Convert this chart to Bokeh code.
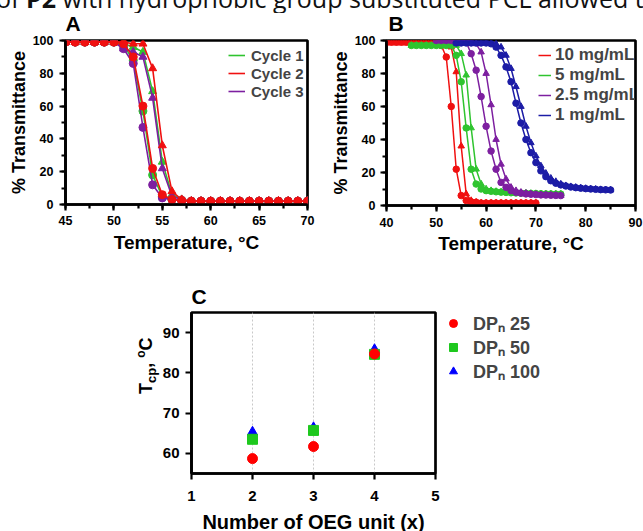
from bokeh.plotting import figure
from bokeh.layouts import column, row
from bokeh.models import Range1d, SingleIntervalTicker, Legend, LegendItem, Div
from bokeh.embed import file_html
from bokeh.resources import INLINE

FONT = "Liberation Sans"

# ---------------- Panel A data (temperature, % transmittance) ----------------
temp_a = [45, 46, 47, 48, 49, 50, 51, 52, 53, 54, 55, 56, 57,
          58, 59, 60, 61, 62, 63, 64, 65, 66, 67, 68, 69, 70]
a_c1_heat = [99, 99, 99, 99, 99, 99, 97, 88, 57, 18, 5, 3, 2.5, 2, 2, 2, 2, 2, 2, 2, 2, 2, 2, 2, 2, 2]
a_c1_cool = [99, 99, 99, 99, 99, 99, 98, 96, 93, 69, 26, 6, 3, 2, 2, 2, 2, 2, 2, 2, 2, 2, 2, 2, 2, 2]
a_c2_heat = [99, 99, 99, 99, 99, 99, 98, 90, 60, 22, 6, 3, 2.5, 2, 2, 2, 2, 2, 2, 2, 2, 2, 2, 2, 2, 2]
a_c2_cool = [99, 99, 99, 99, 99, 99, 99, 98, 98, 83, 36, 8, 3, 2, 2, 2, 2, 2, 2, 2, 2, 2, 2, 2, 2, 2]
a_c3_heat = [99, 99, 99, 99, 99, 99, 95, 86, 47, 12, 4, 3, 2.5, 2, 2, 2, 2, 2, 2, 2, 2, 2, 2, 2, 2, 2]
a_c3_cool = [99, 99, 99, 99, 99, 99, 95, 93, 90, 65, 22, 5, 3, 2, 2, 2, 2, 2, 2, 2, 2, 2, 2, 2, 2, 2]
a_labels = ["Cycle 1", "Cycle 2", "Cycle 3"]

# ---------------- Panel B data ----------------
temp_b_red = [40, 41, 42, 43, 44, 45, 46, 47, 48, 49, 50, 51, 52, 53, 54, 55,
              56, 57, 58, 59, 60, 61, 62, 63, 64, 65, 66, 67, 68, 69, 70]
b_red_heat = [99, 99, 99, 99, 99, 99, 99, 99, 99, 99, 99, 97, 90, 60, 22, 6,
              3, 2.2, 2, 1.5, 1.5, 1.5, 1.5, 1.5, 1.5, 1.5, 1.5, 1.5, 1.5, 1.5, 1.5]
b_red_cool = [98.5, 98.5, 98.5, 98.5, 98.5, 98.5, 98.5, 98.5, 98.5, 98.5, 98.5, 98.5, 98.5, 96, 81, 36,
              7, 3, 2, 1.5, 1.5, 1.5, 1.5, 1.5, 1.5, 1.5, 1.5, 1.5, 1.5, 1.5, 1.5]

temp_b_green = [45, 46, 47, 48, 49, 50, 51, 52, 53, 54, 55, 56, 57, 58, 59, 60,
                61, 62, 63, 64, 65, 66, 67, 68, 69, 70, 71, 72, 73, 74, 75]
b_green_heat = [97, 97, 97, 97, 97, 97, 97, 97, 97, 91, 75, 47, 22, 13, 10, 9,
                8.6, 8.3, 8.1, 7.9, 7.7, 7.6, 7.5, 7.4, 7.3, 7.2, 7.1, 7.0, 7.0, 6.9, 6.9]
b_green_cool = [97, 97, 97, 97, 97, 97, 97, 97, 97, 97, 92, 79, 47, 22, 13, 10,
                9, 8.5, 8.2, 8.0, 7.8, 7.6, 7.5, 7.4, 7.3, 7.2, 7.1, 7.0, 7.0, 6.9, 6.9]

temp_b_purple = [50, 51, 52, 53, 54, 55, 56, 57, 58, 59, 60, 61, 62,
                 63, 64, 65, 66, 67, 68, 69, 70, 71, 72, 73, 74, 75]
b_purple_heat = [100, 100, 100, 100, 100, 100, 99, 92, 82, 66, 48, 33, 22,
                 14, 11, 9, 8, 7.5, 7, 6.8, 6.6, 6.4, 6.3, 6.2, 6.1, 6]
b_purple_cool = [100, 100, 100, 100, 100, 100, 100, 100, 98, 93, 80, 61, 40,
                 25, 16, 11, 9, 8, 7.4, 7, 6.7, 6.5, 6.3, 6.2, 6.1, 6]

temp_b_blue = [54, 55, 56, 57, 58, 59, 60, 61, 62, 63, 64, 65, 66, 67, 68, 69,
               70, 71, 72, 73, 74, 75, 76, 77, 78, 79, 80, 81, 82, 83, 84, 85]
b_blue_heat = [98.5, 98.5, 98.5, 98.5, 98.5, 98.5, 98.5, 98, 96, 91, 84, 75, 62, 50, 40, 32,
               26, 21, 17.5, 15, 13.5, 12.5, 11.8, 11.2, 10.8, 10.5, 10.2, 10, 9.8, 9.6, 9.5, 9.4]
b_blue_cool = [98.5, 98.5, 98.5, 98.5, 98.5, 98.5, 98.5, 98.5, 98, 96, 91, 83, 72, 60, 48, 38,
               30, 24, 19.5, 16.5, 14.5, 13, 12, 11.4, 11, 10.6, 10.3, 10, 9.8, 9.6, 9.5, 9.4]
b_labels = ["10 mg/mL", "5 mg/mL", "2.5 mg/mL", "1 mg/mL"]

# ---------------- Panel C data ----------------
oeg_units = [2, 3, 4]
tcp_dp25 = [58.7, 61.7, 84.7]
tcp_dp50 = [63.5, 65.7, 84.6]
tcp_dp100 = [65.3, 66.4, 85.8]
c_labels = ["DP\u2099 25", "DP\u2099 50", "DP\u2099 100"]

GREEN = "#2fc42f"
RED = "#f01010"
PURPLE = "#7d1fa0"
BLUE = "#1c1ca6"


def style(p, tick_size="12.5px", xlab_size="19px", ylab_size="18px"):
    p.outline_line_color = "black"
    p.outline_line_width = 2.7
    p.outline_line_alpha = 1
    p.background_fill_color = "white"
    p.border_fill_alpha = 0
    p.xgrid.visible = False
    p.ygrid.visible = False
    for ax in p.axis:
        ax.axis_line_width = 2.7
        ax.axis_line_color = "black"
        ax.major_tick_line_width = 2.2
        ax.minor_tick_line_width = 2.2
        ax.major_tick_out = 6
        ax.major_tick_in = 0
        ax.minor_tick_out = 4
        ax.minor_tick_in = 0
        ax.major_label_text_font = FONT
        ax.major_label_text_font_style = "bold"
        ax.major_label_text_font_size = tick_size
        ax.major_label_text_color = "black"
        ax.axis_label_text_font = FONT
        ax.axis_label_text_font_style = "bold"
        ax.axis_label_text_color = "black"
    p.xaxis.axis_label_text_font_size = xlab_size
    p.yaxis.axis_label_text_font_size = ylab_size


def letter(p, txt, offset, standoff):
    p.title.text = txt
    p.title.align = "left"
    p.title.offset = offset
    p.title.standoff = standoff
    p.title.text_font = FONT
    p.title.text_font_style = "bold"
    p.title.text_font_size = "21px"
    p.title.text_color = "black"


# ---------------- Panel A ----------------
pA = figure(frame_width=242, frame_height=164, min_border_left=65, min_border_right=17,
            min_border_top=37, min_border_bottom=52,
            x_range=Range1d(45, 70), y_range=Range1d(0, 100),
            output_backend="svg", toolbar_location=None)
pA.xaxis.ticker = SingleIntervalTicker(interval=5, num_minor_ticks=2)
pA.yaxis.ticker = SingleIntervalTicker(interval=20, num_minor_ticks=2)
pA.xaxis.axis_label = "Temperature, \u00b0C"
pA.yaxis.axis_label = "% Transmittance"
style(pA)
pA.xaxis.major_label_standoff = 5
pA.yaxis.major_label_standoff = 6
pA.xaxis.axis_label_standoff = 4
pA.yaxis.axis_label_standoff = 1
letter(pA, "A", 0, 11)

a_lines = []
for heat, cool, col in [(a_c1_heat, a_c1_cool, GREEN), (a_c3_heat, a_c3_cool, PURPLE),
                        (a_c2_heat, a_c2_cool, RED)]:
    l1 = pA.line(temp_a, heat, line_color=col, line_width=1.6)
    pA.scatter(temp_a, heat, marker="circle", size=8, fill_color=col, line_color=col)
    pA.line(temp_a, cool, line_color=col, line_width=1.6)
    pA.scatter(temp_a, cool, marker="triangle", size=8, fill_color=col, line_color=col)
    a_lines.append(l1)
legA = Legend(items=[LegendItem(label=a_labels[0], renderers=[a_lines[0]]),
                     LegendItem(label=a_labels[1], renderers=[a_lines[2]]),
                     LegendItem(label=a_labels[2], renderers=[a_lines[1]])],
              location=(163, 104), glyph_width=17, glyph_height=18, label_height=18,
              label_standoff=6, spacing=0, padding=0, margin=0,
              border_line_alpha=0, background_fill_alpha=0,
              label_text_font=FONT, label_text_font_style="bold", label_text_font_size="15px")
pA.add_layout(legA)

# ---------------- Panel B ----------------
pB = figure(frame_width=249, frame_height=165, min_border_left=62, min_border_right=8,
            min_border_top=37, min_border_bottom=51,
            x_range=Range1d(40, 90), y_range=Range1d(0, 100),
            output_backend="svg", toolbar_location=None)
pB.xaxis.ticker = SingleIntervalTicker(interval=10, num_minor_ticks=2)
pB.yaxis.ticker = SingleIntervalTicker(interval=20, num_minor_ticks=2)
pB.xaxis.axis_label = "Temperature, \u00b0C"
pB.yaxis.axis_label = "% Transmittance"
style(pB)
pB.xaxis.major_label_standoff = 6
pB.yaxis.major_label_standoff = 5
pB.xaxis.axis_label_standoff = 3
pB.yaxis.axis_label_standoff = 1
letter(pB, "B", 2, 11)

b_lines = []
for t, heat, cool, col in [(temp_b_red, b_red_heat, b_red_cool, RED),
                           (temp_b_green, b_green_heat, b_green_cool, GREEN),
                           (temp_b_purple, b_purple_heat, b_purple_cool, PURPLE),
                           (temp_b_blue, b_blue_heat, b_blue_cool, BLUE)]:
    l1 = pB.line(t, heat, line_color=col, line_width=1.5)
    pB.scatter(t, heat, marker="circle", size=6.5, fill_color=col, line_color=col)
    pB.line(t, cool, line_color=col, line_width=1.5)
    pB.scatter(t, cool, marker="triangle", size=6.5, fill_color=col, line_color=col)
    b_lines.append(l1)
legB = Legend(items=[LegendItem(label=lab, renderers=[r]) for lab, r in zip(b_labels, b_lines)],
              location=(152, 80), glyph_width=13, glyph_height=18, label_height=18,
              label_standoff=4, spacing=0, padding=0, margin=0,
              border_line_alpha=0, background_fill_alpha=0,
              label_text_font=FONT, label_text_font_style="bold", label_text_font_size="17px")
pB.add_layout(legB)

# ---------------- Panel C ----------------
pC = figure(frame_width=244, frame_height=161, min_border_left=51, min_border_right=150,
            min_border_top=56, min_border_bottom=58,
            x_range=Range1d(1, 5), y_range=Range1d(55, 95),
            output_backend="svg", toolbar_location=None)
pC.xaxis.ticker = SingleIntervalTicker(interval=1, num_minor_ticks=0)
pC.yaxis.ticker = SingleIntervalTicker(interval=10, num_minor_ticks=0)
pC.xaxis.axis_label = "Number of OEG unit (x)"
style(pC, tick_size="15px", xlab_size="20px")
for ax in pC.axis:
    ax.minor_tick_out = 0
pC.xaxis.major_label_standoff = 11
pC.yaxis.major_label_standoff = 6
pC.xaxis.axis_label_standoff = 7
pC.xgrid.visible = True
pC.xgrid.grid_line_color = "#c8c8c8"
pC.xgrid.grid_line_dash = "2 2"
pC.xgrid.grid_line_width = 1
letter(pC, "C", 0, 10)

rc3 = pC.scatter(oeg_units, tcp_dp100, marker="triangle", size=10, fill_color="#0000ff", line_color="#0000ff")
rc2 = pC.scatter(oeg_units, tcp_dp50, marker="square", size=10, fill_color="#1ec81e", line_color="#1ec81e")
rc1 = pC.scatter(oeg_units, tcp_dp25, marker="circle", size=10, fill_color="#ff0000", line_color="#ff0000")
legC = Legend(items=[LegendItem(label=c_labels[0], renderers=[rc1]),
                     LegendItem(label=c_labels[1], renderers=[rc2]),
                     LegendItem(label=c_labels[2], renderers=[rc3])],
              location=(8, 90), glyph_width=20, glyph_height=22, label_height=22,
              label_standoff=10, spacing=0, padding=0, margin=0,
              border_line_alpha=0, background_fill_alpha=0,
              label_text_font=FONT, label_text_font_style="bold", label_text_font_size="18px")
pC.add_layout(legC, "right")

# rotated y-axis title of panel C:  T_cp, °C
tcp_title = Div(text=('<div style="position:relative;left:132px;top:138px;width:80px;'
                      'transform-origin:0 0;transform:rotate(-90deg);white-space:nowrap;'
                      'font-family:\'Liberation Sans\';font-weight:bold;font-size:18px;line-height:18px;color:#000;">'
                      'T<sub style="font-size:13px;vertical-align:-4px;">cp</sub>, '
                      '<sup style="font-size:12px;vertical-align:7px;">o</sup>C</div>'),
                width=140, height=279, margin=0)

header = Div(text=('<div style="position:relative;top:-17px;left:-4px;width:647px;height:30px;'
                   'overflow:hidden;white-space:nowrap;font-family:\'Open Sans\';font-size:25px;'
                   'line-height:30px;color:#111;">of <b>P2</b> with hydrophobic group substituted PCL allowed to</div>'),
             width=639, height=3, margin=0)

layout = column(header, row(pA, pB), row(tcp_title, pC))
open("out.html", "w").write(file_html(layout, INLINE))
